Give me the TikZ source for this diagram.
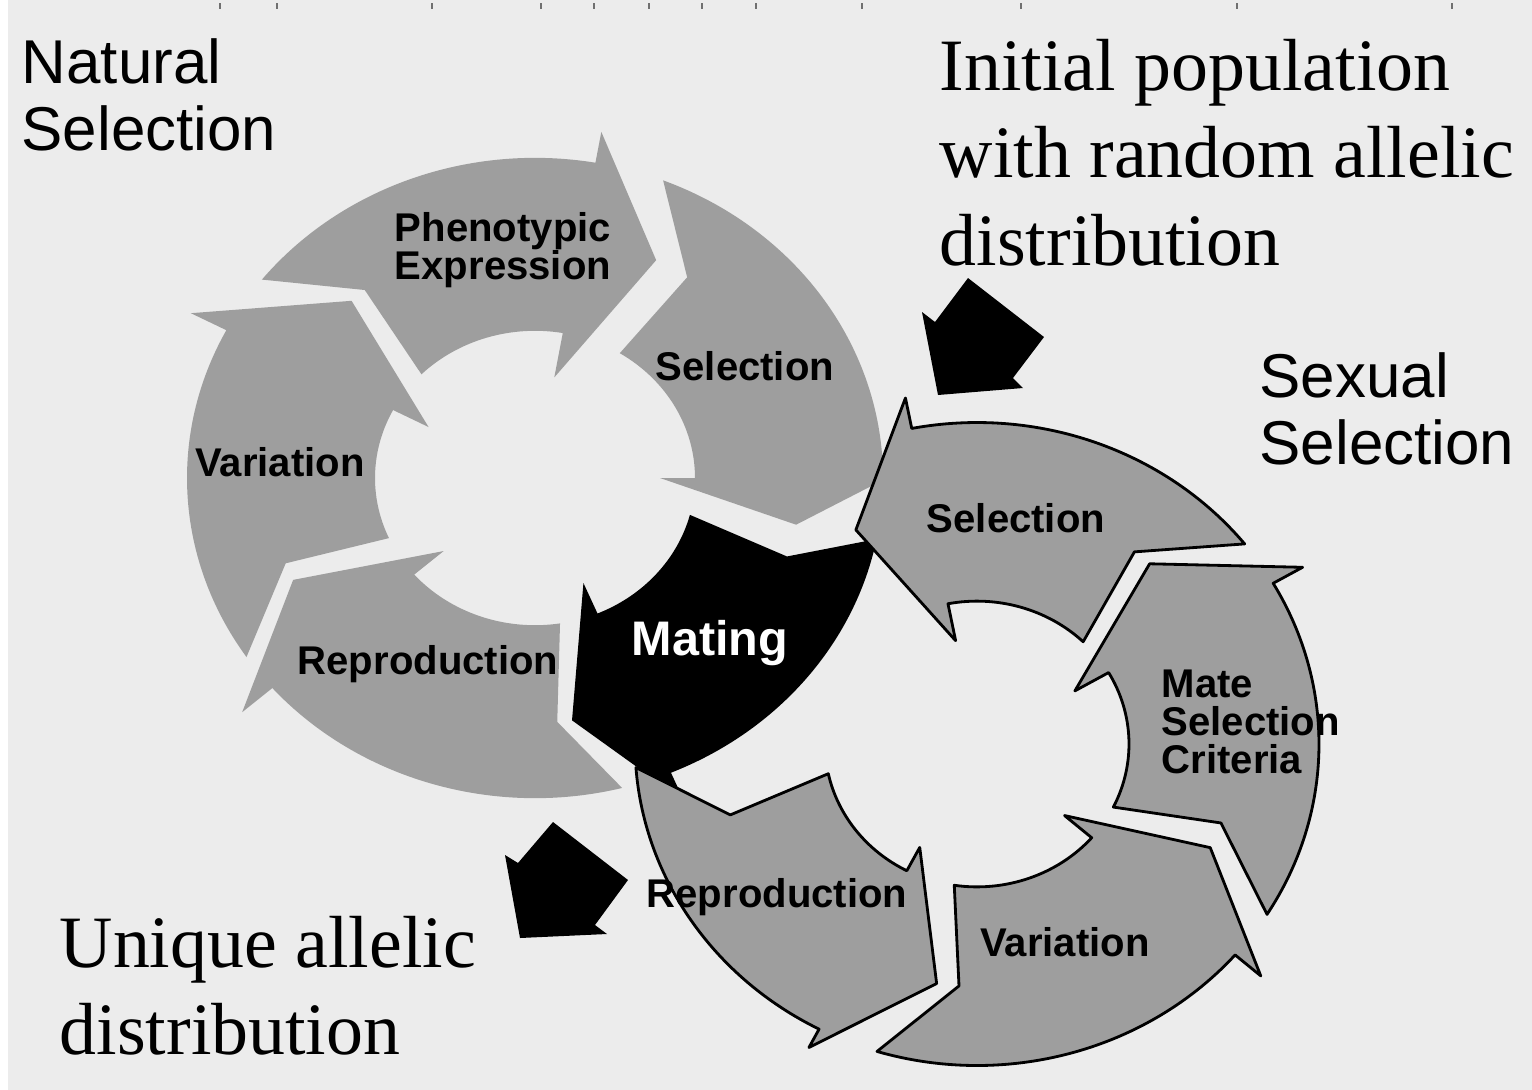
\documentclass[tikz,border=0pt]{standalone}
\usepackage{fontspec}
\setmainfont{Liberation Serif}
\setsansfont{Liberation Sans}
\definecolor{bgpaper}{HTML}{ECECEC}
\definecolor{ringgray}{HTML}{9E9E9E}
\definecolor{tickgray}{HTML}{707070}
% #1 style, #2 tail outer angle, #3 tail notch angle, #4 tail inner angle,
% #5 barb angle, #6 tip angle, #7 outer barb radius, #8 inner barb radius
\newcommand\ringarrow[8]{%
  \path[#1] (#2:\Ro) arc[start angle=#2, end angle=#5, radius=\Ro]
    -- (#5:#7) -- (#6:\Rm) -- (#5:#8) -- (#5:\Ri)
    arc[start angle=#5, end angle=#4, radius=\Ri]
    -- (#3:\Rm) -- cycle;}
\tikzset{
  ngray/.style={fill=ringgray},
  sgray/.style={fill=ringgray, draw=black, line width=0.8pt, line join=round},
  matingfill/.style={fill=black},
  blockarrow/.style={fill=black},
  tickmark/.style={draw=tickgray, line width=0.5pt},
  lbl/.style={font=\sffamily\bfseries\fontsize{11.4}{11.4}\selectfont, inner sep=0pt},
  lblmulti/.style={font=\sffamily\bfseries\fontsize{11.4}{10.8}\selectfont, inner sep=0pt},
  bigsans/.style={font=\sffamily\fontsize{17.6}{19}\selectfont, inner sep=0pt, align=left, anchor=north west},
  bigserif/.style={font=\rmfamily\fontsize{21}{24.75}\selectfont, inner sep=0pt, align=left, anchor=north west},
}
\begin{document}
\begin{tikzpicture}[x=0.01cm, y=-0.01cm]
\useasboundingbox (0,0) rectangle (1532,1090);
\fill[white] (0,0) rectangle (1532,1090);
\fill[bgpaper] (8,0) rectangle (1532,1090);
\foreach \tx in {220,277,432,541,594,649,702,756,862,1021,1237,1452}
  \draw[tickmark] (\tx,3) -- (\tx,9);

% ---- Natural selection ring (clockwise) ----
\begin{scope}[shift={(535,478)}, yscale=0.92]
  \def\Ro{348}\def\Ri{160}\def\Rm{266}
  \ringarrow{ngray}{146}{159.6}{155.9}{207.5}{226.4}{388}{120}   % Variation
  \ringarrow{ngray}{218.3}{230.2}{224.8}{280}{297.1}{382}{111}   % Phenotypic Expression
  \ringarrow{ngray}{291.6}{304.9}{302}{360}{371}{352}{125}       % Selection
  \ringarrow{ngray}{75.5}{85.2}{81}{139}{155.4}{388}{121}        % Reproduction
  % Mating (shared, black)
  \ringarrow{matingfill}{11}{18.7}{14.5}{67}{82}{381}{124}
\end{scope}

% ---- Sexual selection ring (counter-clockwise) ----
\begin{scope}[shift={(977,744)}, yscale=0.94]
  \def\Ro{342}\def\Ri{152}\def\Rm{258}
  \ringarrow{sgray}{321.5}{307.6}{314.3}{259}{242}{375}{112}     % Selection
  \ringarrow{sgray}{32}{19}{26.2}{-30}{-48}{376}{113}            % Mate Selection Criteria
  \ringarrow{sgray}{107}{94}{98.6}{41}{25.3}{376}{116}           % Variation
  \ringarrow{sgray}{175.8}{163}{168}{117.5}{99}{364}{124}        % Reproduction
\end{scope}

% ---- block arrows ----
\fill[blockarrow] (938,395) -- (922,312) -- (935,322) -- (968,278) -- (1044,337) -- (1013,378) -- (1023,388) -- cycle;
\fill[blockarrow] (520,938) -- (505,855) -- (518,863) -- (553,822) -- (628,880) -- (595,925) -- (607,934) -- cycle;

% ---- labels in the rings ----
\node[lblmulti, align=center, anchor=north] (phen) at (503,212) {Phenotypic\\Expression};
\node[lbl, anchor=base] (nsel) at (745,380) {Selection};
\node[lbl, anchor=base] (nvar) at (280,476) {Variation};
\node[lbl, anchor=base] (nrep) at (428,674) {Reproduction};
\node[font=\sffamily\bfseries\fontsize{13.8}{13.8}\selectfont, text=white, inner sep=0pt, anchor=base] (mating) at (710,655) {Mating};
\node[lbl, anchor=base] (ssel) at (1016,532) {Selection};
\node[lblmulti, align=left, anchor=north west] (msc) at (1161,669) {Mate\\Selection\\Criteria};
\node[lbl, anchor=base] (svar) at (1065,956) {Variation};
\node[lbl, anchor=base] (srep) at (777,907) {Reproduction};

% ---- titles and notes ----
\node[bigsans] (natsel) at (21,38) {Natural\\Selection};
\node[bigsans] (sexsel) at (1259,352) {Sexual\\Selection};
\node[bigserif] (initpop) at (939,39) {Initial population\\with random allelic\\distribution};
\node[bigserif] (unique) at (59,916) {Unique allelic\\distribution};
\end{tikzpicture}
\end{document}
